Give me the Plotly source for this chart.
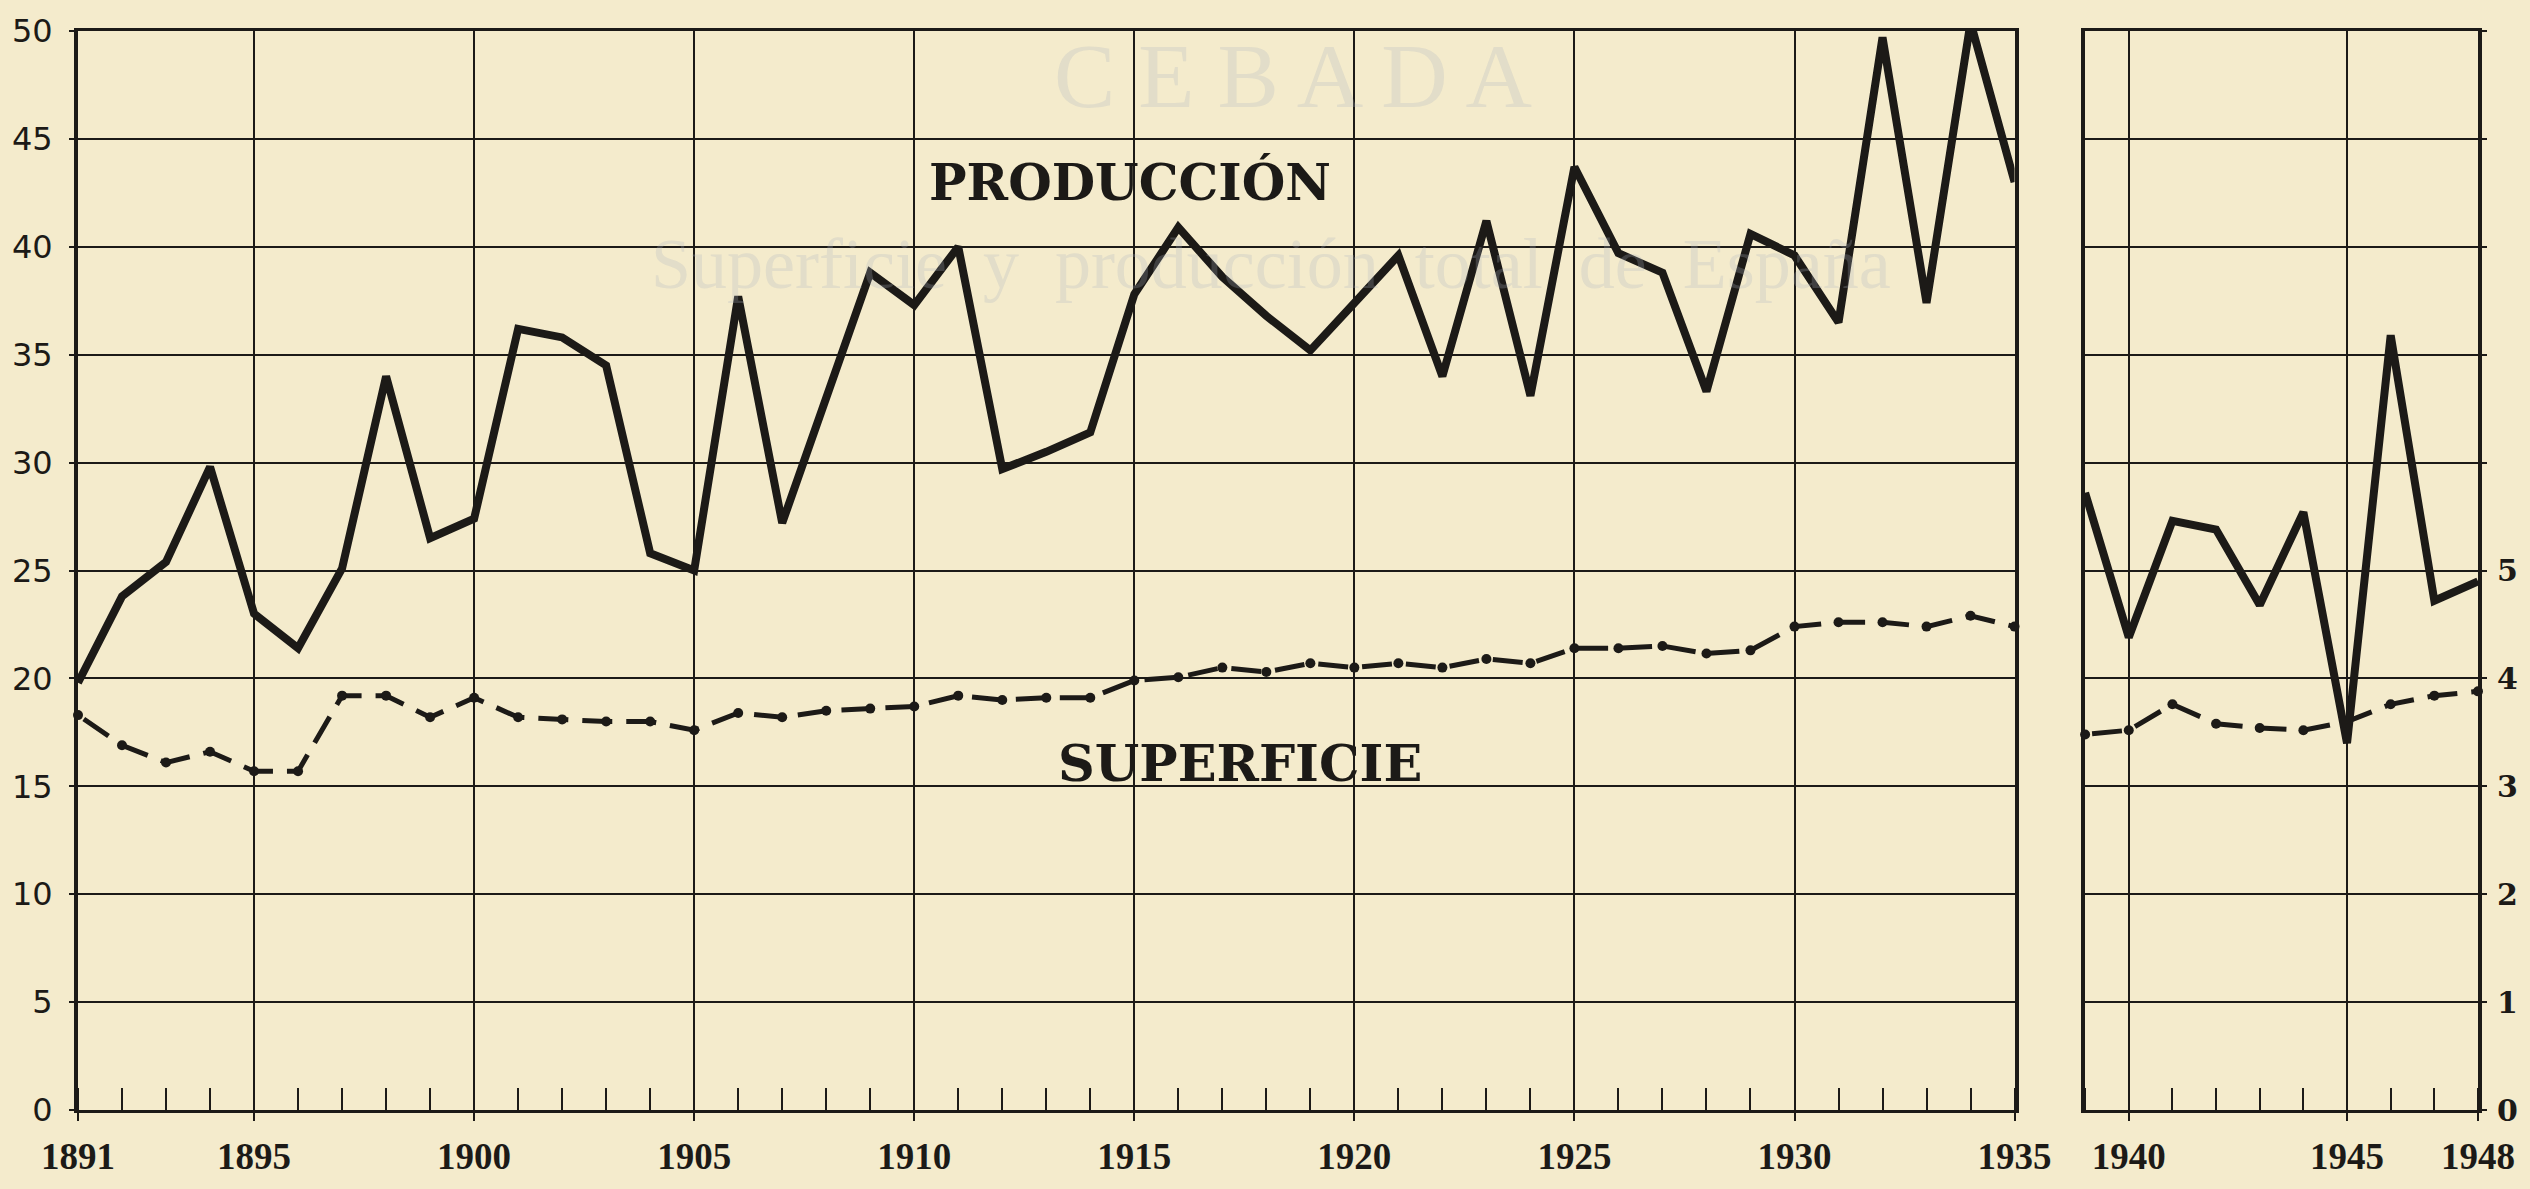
import plotly.graph_objects as go

# ---------------- data ----------------
years_a = list(range(1891, 1936))
produccion_a = [19.8, 23.8, 25.4, 29.8, 23.0, 21.4, 25.1, 34.0, 26.5, 27.4,
                36.2, 35.8, 34.5, 25.8, 25.0, 37.7, 27.2, 32.9, 38.8, 37.3,
                40.0, 29.7, 30.5, 31.4, 37.8, 40.9, 38.6, 36.8, 35.2, 37.4,
                39.6, 34.0, 41.2, 33.1, 43.7, 39.7, 38.8, 33.3, 40.6, 39.6,
                36.5, 49.7, 37.4, 50.4, 43.0]
superficie_a = [18.3, 16.9, 16.1, 16.6, 15.7, 15.7, 19.2, 19.2, 18.2, 19.1,
                18.2, 18.1, 18.0, 18.0, 17.6, 18.4, 18.2, 18.5, 18.6, 18.7,
                19.2, 19.0, 19.1, 19.1, 19.9, 20.05, 20.5, 20.3, 20.7, 20.5,
                20.7, 20.5, 20.9, 20.7, 21.4, 21.4, 21.5, 21.15, 21.3, 22.4,
                22.6, 22.6, 22.4, 22.9, 22.4]

years_b = list(range(1939, 1949))
produccion_b = [28.6, 21.9, 27.3, 26.9, 23.4, 27.7, 17.0, 35.9, 23.6, 24.5]
superficie_b = [17.4, 17.6, 18.8, 17.9, 17.7, 17.6, 18.0, 18.8, 19.2, 19.4]

xticks_a = [1891, 1895, 1900, 1905, 1910, 1915, 1920, 1925, 1930, 1935]
xticks_b = [1940, 1945, 1948]
yticks = [0, 5, 10, 15, 20, 25, 30, 35, 40, 45, 50]
right_labels = ["0", "1", "2", "3", "4", "5", "", "", "", "", ""]

INK = "#1c1a17"
PAPER = "#F4EBCC"

fig = go.Figure()

for xs, prod, sup, xa, ya in [(years_a, produccion_a, superficie_a, "x", "y"),
                               (years_b, produccion_b, superficie_b, "x2", "y2")]:
    fig.add_trace(go.Scatter(
        x=xs, y=sup, xaxis=xa, yaxis=ya, mode="lines+markers",
        line=dict(color=INK, width=5, dash="0px,7px,30px,7px"),
        marker=dict(color=INK, size=10, symbol="circle"),
        showlegend=False, cliponaxis=False, hoverinfo="x+y"))
    fig.add_trace(go.Scatter(
        x=xs, y=prod, xaxis=xa, yaxis=ya, mode="lines",
        line=dict(color=INK, width=8),
        showlegend=False, cliponaxis=False, hoverinfo="x+y"))

axis_common = dict(showline=True, mirror=True, linecolor=INK,
                   showgrid=True, gridcolor=INK, gridwidth=2, zeroline=False)

fig.update_layout(
    width=2530, height=1189,
    paper_bgcolor=PAPER, plot_bgcolor=PAPER,
    margin=dict(l=73, r=50, t=31, b=77),
    xaxis=dict(domain=[0, 0.8069], range=[1891, 1935], tickmode="array",
               tickvals=xticks_a, ticktext=[str(v) for v in xticks_a],
               ticks="outside", ticklen=8, tickwidth=2, tickcolor=INK,
               ticklabelstandoff=4,
               tickfont=dict(family="Liberation Serif", size=37, color=INK, weight="bold"),
               minor=dict(tickmode="linear", tick0=1891, dtick=1, ticks="inside",
                          ticklen=22, tickwidth=2, tickcolor=INK, showgrid=False),
               linewidth=3, anchor="y", **axis_common),
    yaxis=dict(domain=[0, 1], range=[0, 50], tickmode="array", tickvals=yticks,
               ticktext=[str(v) for v in yticks],
               ticks="outside", ticklen=5, tickwidth=2, tickcolor=INK,
               ticklabelstandoff=10,
               tickfont=dict(family="DejaVu Sans", size=32, color=INK),
               linewidth=4, anchor="x", **axis_common),
    xaxis2=dict(domain=[0.8363, 1], range=[1939, 1948], tickmode="array",
                tickvals=xticks_b, ticktext=[str(v) for v in xticks_b],
                ticks="outside", ticklen=8, tickwidth=2, tickcolor=INK,
                ticklabelstandoff=4,
                tickfont=dict(family="Liberation Serif", size=37, color=INK, weight="bold"),
                minor=dict(tickmode="linear", tick0=1939, dtick=1, ticks="inside",
                           ticklen=22, tickwidth=2, tickcolor=INK, showgrid=False),
                linewidth=3, anchor="y2", **axis_common),
    yaxis2=dict(domain=[0, 1], range=[0, 50], tickmode="array", tickvals=yticks,
                ticktext=right_labels, side="right",
                ticks="outside", ticklen=5, tickwidth=2, tickcolor=INK,
                ticklabelstandoff=4,
                tickfont=dict(family="DejaVu Serif", size=30, color=INK, weight="bold"),
                linewidth=4, anchor="x2", **axis_common),
)

# faint show-through title from the next page
fig.add_annotation(xref="x", yref="y", x=1918.6, y=47.9, text="C E B A D A",
                   showarrow=False, font=dict(family="Liberation Serif", size=92,
                                              color="rgba(170,178,190,0.25)"))
fig.add_annotation(xref="x", yref="y", x=1918.1, y=39.2,
                   text="Superficie  y  producción  total  de  España",
                   showarrow=False, borderpad=0,
                   font=dict(family="Liberation Serif", size=72,
                             color="rgba(170,178,190,0.25)"))

# series labels
fig.add_annotation(xref="x", yref="y", x=1914.9, y=43.0, text="PRODUCCIÓN",
                   showarrow=False, borderpad=0,
                   font=dict(family="DejaVu Serif", size=50, color=INK, weight="bold"))
fig.add_annotation(xref="x", yref="y", x=1917.4, y=16.1, text="SUPERFICIE",
                   showarrow=False, borderpad=0,
                   font=dict(family="DejaVu Serif", size=51, color=INK, weight="bold"))

fig.write_html("out.html",
               config={"displayModeBar": False},
               post_script="document.body.style.margin='0';"
                           "document.body.style.overflow='hidden';")
